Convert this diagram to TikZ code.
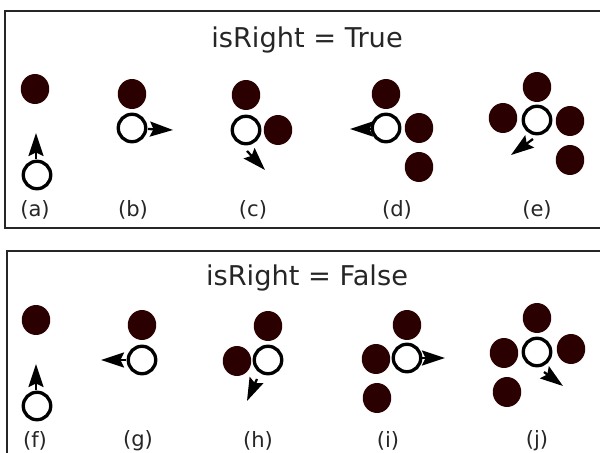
\documentclass[tikz,border=0pt]{standalone}
\usepackage{fontspec}
\setmainfont{DejaVu Sans}
\usetikzlibrary{arrows.meta,shapes.geometric}
\definecolor{dotfill}{RGB}{42,0,0}
\begin{document}
\begin{tikzpicture}[x=0.02cm,y=-0.02cm,
  panel/.style={draw=black!85,line width=1.1pt},
  dot/.style={ellipse,fill=dotfill,draw=none,minimum width=0.57cm,minimum height=0.6cm,inner sep=0pt},
  agent/.style={circle,draw=black,fill=white,line width=1.9pt,minimum size=0.55cm,inner sep=0pt},
  heading/.style={font=\fontsize{15.5}{18}\selectfont,text=black!85,inner sep=0pt},
  caption/.style={font=\fontsize{12}{14}\selectfont,text=black!85,inner sep=0pt},
  dir/.style={line width=1.3pt,-{Stealth[length=0.46cm,width=0.3cm,inset=0.07cm]}}]
\useasboundingbox (0,0) rectangle (600,453);
\clip (0,0) rectangle (600,453);
% panel frames
\draw[panel] (5,11) rectangle (612,228);
\draw[panel] (7,251) rectangle (612,470);
\node[heading] (t1) at (307,40) {isRight = True};
\node[heading] (t2) at (307,278) {isRight = False};
% ---- isRight = True ----
% (a)
\node[dot] (a1) at (35,89) {};
\node[agent] (a0) at (37,175) {};
\draw[dir] (36,159) -- (36,133);
\node[caption] (la) at (35,210) {(a)};
% (b)
\node[dot] (b1) at (132,94) {};
\node[agent] (b0) at (132,128) {};
\draw[dir] (148,129) -- (173,130);
\node[caption] (lb) at (133,210) {(b)};
% (c)
\node[dot] (c1) at (246,95) {};
\node[agent] (c0) at (246,130) {};
\node[dot] (c2) at (278,130) {};
\draw[dir] (247,151) -- (265,170);
\node[caption] (lc) at (253,210) {(c)};
% (d)
\node[dot] (d1) at (386,94) {};
\node[agent] (d0) at (386,128) {};
\node[dot] (d2) at (419,128) {};
\node[dot] (d3) at (419,167) {};
\draw[dir] (372,129) -- (350,129);
\node[caption] (ld) at (397,210) {(d)};
% (e)
\node[dot] (e1) at (537,87) {};
\node[agent] (e0) at (537,120) {};
\node[dot] (e2) at (503,118) {};
\node[dot] (e3) at (570,121) {};
\node[dot] (e4) at (570,160) {};
\draw[dir] (533,139) -- (511,155);
\node[caption] (le) at (537,210) {(e)};
% ---- isRight = False ----
% (f)
\node[dot] (f1) at (36,320) {};
\node[agent] (f0) at (37,406) {};
\draw[dir] (36,390) -- (36,364);
\node[caption] (lf) at (35,441) {(f)};
% (g)
\node[dot] (g1) at (142,325) {};
\node[agent] (g0) at (142,360) {};
\draw[dir] (126,360) -- (101,360);
\node[caption] (lg) at (138,441) {(g)};
% (h)
\node[dot] (h1) at (268,326) {};
\node[agent] (h0) at (268,360) {};
\node[dot] (h2) at (237,361) {};
\draw[dir] (257,379) -- (247,401);
\node[caption] (lh) at (258,441) {(h)};
% (i)
\node[dot] (i1) at (407,325) {};
\node[agent] (i0) at (407,358) {};
\node[dot] (i2) at (376,359) {};
\node[dot] (i3) at (377,398) {};
\draw[dir] (422,358) -- (445,358);
\node[caption] (li) at (388,441) {(i)};
% (j)
\node[dot] (j1) at (537,318) {};
\node[agent] (j0) at (537,352) {};
\node[dot] (j2) at (504,353) {};
\node[dot] (j3) at (571,349) {};
\node[dot] (j4) at (507,392) {};
\draw[dir] (544,372) -- (563,386);
\node[caption] (lj) at (537,441) {(j)};
\end{tikzpicture}
\end{document}
